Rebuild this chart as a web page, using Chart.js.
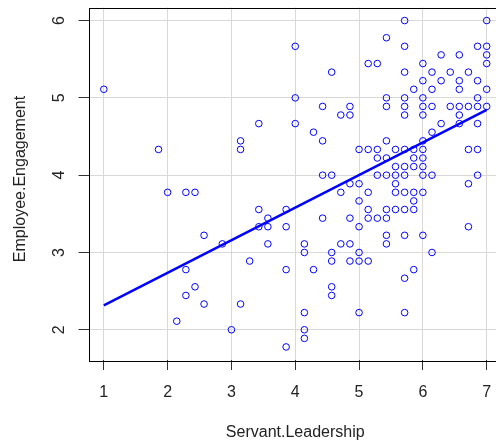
<!DOCTYPE html>
<html>
<head>
<meta charset="utf-8">
<script src="https://cdn.jsdelivr.net/npm/chart.js@4/dist/chart.umd.min.js"></script>
<style>
  html, body { margin: 0; padding: 0; background: #fff; overflow: hidden; }
  #wrap { width: 510px; height: 441px; }
</style>
</head>
<body>
<div id="wrap"><canvas id="scatterChart" width="510" height="441"></canvas></div>
<script>
// Servant.Leadership (x) and Employee.Engagement (y), one line per row of points
const servantLeadership = [
  1, 1.857, 3.143, 3.143, 3.429, 2, 2.286, 2.429, 3.429, 3.571, 3.857, 3.429, 3.571, 3.857,
  2.571, 2.857, 3.571, 3.286, 2.286, 3.857, 2.429, 2.286, 2.571, 3.143, 2.143, 3, 3.857,
  5.714, 7,
  5.429,
  4, 5.714, 6.857, 7,
  6.286, 6.571, 7,
  5.143, 5.286, 6, 7,
  4.571, 5.714, 6.143, 6.429, 6.714,
  6, 6.286, 6.571, 6.857,
  5.857, 6.143, 6.571, 7,
  4, 5.429, 5.714, 6, 6.857,
  4.429, 4.857, 5.429, 5.714, 6, 6.143, 6.429, 6.571, 6.714, 6.857, 7,
  4.714, 4.857, 5.714, 6, 6.571,
  4, 6.286, 6.571, 6.857,
  4.286, 6.143,
  4.429, 5.429, 6,
  5, 5.143, 5.286, 5.571, 5.714, 5.857, 6, 6.714, 6.857,
  5.286, 5.429, 5.857, 6,
  5.571, 5.714, 5.857, 6,
  4.429, 4.571, 5.286, 5.429, 5.571, 5.714, 6, 6.143, 6.857,
  4.857, 5, 5.571, 6.714,
  4.714, 5.143, 5.571, 5.714, 5.857, 6,
  5, 5.857,
  5.143, 5.429, 5.571, 5.714, 5.857,
  4.429, 4.857, 5.143, 5.286, 5.429,
  5, 6.714,
  5.429, 5.714, 6,
  4.143, 4.714, 4.857, 5.429,
  4.143, 4.571, 5, 6.143,
  4.571, 4.857, 5, 5.143,
  4.286, 5.857,
  5.714,
  4.571,
  4.571,
  4.143, 5, 5.714,
  4.143,
  4.143
];

const employeeEngagement = [
  5.111, 4.333, 4.444, 4.333, 4.667, 3.778, 3.778, 3.778, 3.556, 3.444, 3.556, 3.333, 3.333, 3.333,
  3.222, 3.111, 3.111, 2.889, 2.778, 2.778, 2.556, 2.444, 2.333, 2.333, 2.111, 2, 1.778,
  6, 6,
  5.778,
  5.667, 5.667, 5.667, 5.667,
  5.556, 5.556, 5.556,
  5.444, 5.444, 5.444, 5.444,
  5.333, 5.333, 5.333, 5.333, 5.333,
  5.222, 5.222, 5.222, 5.222,
  5.111, 5.111, 5.111, 5.111,
  5, 5, 5, 5, 5,
  4.889, 4.889, 4.889, 4.889, 4.889, 4.889, 4.889, 4.889, 4.889, 4.889, 4.889,
  4.778, 4.778, 4.778, 4.778, 4.778,
  4.667, 4.667, 4.667, 4.667,
  4.556, 4.556,
  4.444, 4.444, 4.444,
  4.333, 4.333, 4.333, 4.333, 4.333, 4.333, 4.333, 4.333, 4.333,
  4.222, 4.222, 4.222, 4.222,
  4.111, 4.111, 4.111, 4.111,
  4, 4, 4, 4, 4, 4, 4, 4, 4,
  3.889, 3.889, 3.889, 3.889,
  3.778, 3.778, 3.778, 3.778, 3.778, 3.778,
  3.667, 3.667,
  3.556, 3.556, 3.556, 3.556, 3.556,
  3.444, 3.444, 3.444, 3.444, 3.444,
  3.333, 3.333,
  3.222, 3.222, 3.222,
  3.111, 3.111, 3.111, 3.111,
  3, 3, 3, 3,
  2.889, 2.889, 2.889, 2.889,
  2.778, 2.778,
  2.667,
  2.556,
  2.444,
  2.222, 2.222, 2.222,
  2,
  1.889
];

// fitted regression line, read at its two ends
const fitX = [1, 7];
const fitY = [2.315, 4.846];

const xTicks = [1, 2, 3, 4, 5, 6, 7];
const yTicks = [2, 3, 4, 5, 6];

const FONT = '16px "Liberation Sans", Arial, sans-serif';
const TEXT = "#222";

// draws the R-style tick labels, axis titles and the box
const rLabels = {
  id: "rLabels",
  afterDraw(chart) {
    const ctx = chart.ctx;
    const area = chart.chartArea;
    const xs = chart.scales.x;
    const ys = chart.scales.y;
    ctx.save();
    ctx.strokeStyle = "#000";
    ctx.lineWidth = 1;
    ctx.strokeRect(Math.round(area.left) + 0.5, Math.round(area.top) + 0.5,
      Math.round(area.right - area.left), Math.round(area.bottom - area.top));

    ctx.font = FONT;
    ctx.fillStyle = TEXT;
    ctx.textBaseline = "alphabetic";
    ctx.textAlign = "center";
    xTicks.forEach(function (v) {
      ctx.fillText(String(v), xs.getPixelForValue(v), 397);
    });
    yTicks.forEach(function (v) {
      ctx.save();
      ctx.translate(64, ys.getPixelForValue(v));
      ctx.rotate(-Math.PI / 2);
      ctx.fillText(String(v), 0, 0);
      ctx.restore();
    });
    ctx.fillText("Servant.Leadership", (area.left + area.right) / 2, 437);
    ctx.save();
    ctx.translate(25, 179);
    ctx.rotate(-Math.PI / 2);
    ctx.fillText("Employee.Engagement", 0, 0);
    ctx.restore();
    ctx.restore();
  }
};

function initializeChart() {
  const ctx = document.getElementById("scatterChart").getContext("2d");
  new Chart(ctx, {
    type: "scatter",
    data: {
      datasets: [
        {
          label: "points",
          data: servantLeadership.map((x, i) => ({ x: x, y: employeeEngagement[i] })),
          pointStyle: "circle",
          pointRadius: 3.3,
          pointBorderWidth: 1,
          pointBorderColor: "#0000ff",
          pointBackgroundColor: "rgba(0,0,0,0)",
          showLine: false,
          order: 2
        },
        {
          type: "line",
          label: "fit",
          data: fitX.map((x, i) => ({ x: x, y: fitY[i] })),
          borderColor: "#0000ff",
          borderWidth: 2.5,
          pointRadius: 0,
          fill: false,
          order: 1
        }
      ]
    },
    options: {
      responsive: false,
      animation: false,
      devicePixelRatio: 1,
      layout: { padding: { top: 7.5, right: 8, left: 0, bottom: 0 } },
      plugins: {
        legend: { display: false },
        tooltip: { enabled: false }
      },
      scales: {
        x: {
          type: "linear",
          min: 0.76,
          max: 7.24,
          ticks: { stepSize: 1, includeBounds: false, display: false },
          grid: { color: "#d9d9d9", lineWidth: 1, tickColor: "#333", tickLength: 10, drawTicks: true },
          border: { display: false },
          afterFit: function (scale) { scale.height = 81; }
        },
        y: {
          type: "linear",
          min: 1.609,
          max: 6.169,
          ticks: { stepSize: 1, includeBounds: false, display: false },
          grid: { color: "#d9d9d9", lineWidth: 1, tickColor: "#333", tickLength: 10, drawTicks: true },
          border: { display: false },
          afterFit: function (scale) { scale.width = 88.5; }
        }
      }
    },
    plugins: [rLabels]
  });
}

initializeChart();
</script>
</body>
</html>
